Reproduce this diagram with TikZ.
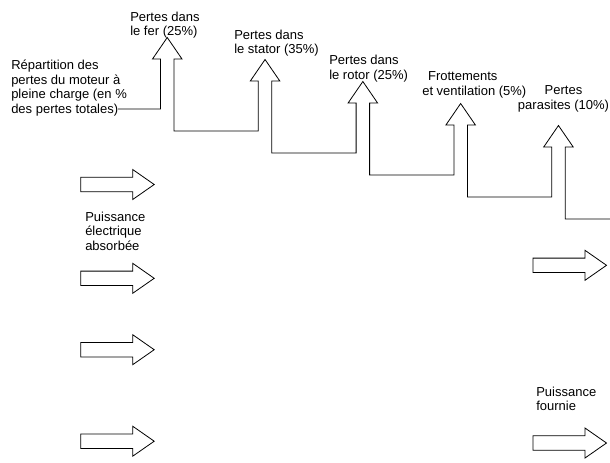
\documentclass[tikz,border=0pt]{standalone}
\usepackage{fontspec}
\setmainfont{Liberation Sans}
\usetikzlibrary{positioning}

\begin{document}
\begin{tikzpicture}[
  x=0.75pt, y=-0.75pt,
  outline/.style={draw=black, line width=0.6pt, line join=miter},
  label/.style={font=\fontsize{9.75}{10.9}\selectfont, inner sep=0pt, align=left},
  rarrow/.pic={\draw[outline] (0,-7.2) -- (52,-7.2) -- (52,-15) -- (73.5,0)
                -- (52,15) -- (52,7.2) -- (0,7.2) -- cycle;},
]
\useasboundingbox (0,0) rectangle (610,462);

% === TEXTES ===
\node[label, anchor=west] (repart) at (11,88) {Répartition des\\pertes du moteur à\\pleine charge (en \%\\des pertes totales)};
\node[label, anchor=west] (fer) at (130,25) {Pertes dans\\le fer (25\%)};
\node[label, anchor=west] (stator) at (234,43) {Pertes dans\\le stator (35\%)};
\node[label, anchor=west] (rotor) at (329,68.5) {Pertes dans\\le rotor (25\%)};
\node[label, anchor=west] (frott) at (422,85) {\hspace*{0.45em}Frottements\\et ventilation (5\%)};
\node[label, align=center] (parasites) at (563.5,99) {Pertes\\parasites (10\%)};
\node[label, anchor=west] (absorbee) at (85,231) {Puissance\\électrique\\absorbée};
\node[label, anchor=west] (fournie) at (536,399) {Puissance\\fournie};

% === ESCALIER DES PERTES ===
\coordinate (depart) at (118,109);
\draw[outline] (depart) -- (160.5,109)
  foreach \i in {1,...,5} {
    -- ++(0,-50) -- ++(-8,0) -- ++(14.75,-21.5) -- ++(14.75,21.5) -- ++(-8,0)
    -- ++(0,72) -- ++(84.3,0)
  };

% === FLECHES DE PUISSANCE ===
\foreach \y in {184.5,278.3,349.7,441.2}
  \pic at (80.7,\y) {rarrow};
\foreach \y in {265.3,443}
  \pic at (533,\y) {rarrow};
\end{tikzpicture}
\end{document}
